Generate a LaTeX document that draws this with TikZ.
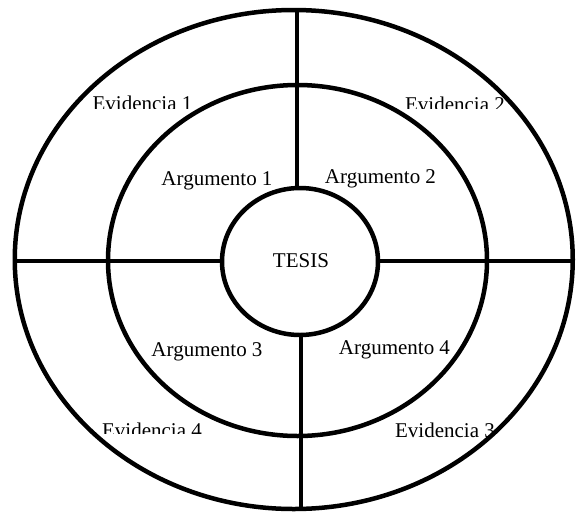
\documentclass[tikz,border=0pt]{standalone}
\usepackage{fontspec}
\setmainfont{Liberation Serif}
\usetikzlibrary{shapes.geometric}
\begin{document}
\begin{tikzpicture}[x=1pt,y=-1pt,
  ring/.style={draw=black, line width=4.5pt, ellipse, inner sep=0pt, outer sep=0pt},
  divider/.style={draw=black, line width=3.3pt},
  lbl/.style={anchor=base, inner sep=0pt, font=\fontsize{21}{24}\selectfont}]
\useasboundingbox (0,0) rectangle (576,515);
% rings
\node[ring, minimum width=558pt, minimum height=499pt] (outer) at (293.75,259.5) {};
\node[ring, minimum width=379pt, minimum height=351pt] (middle) at (297.5,260.5) {};
\node[ring, minimum width=156pt, minimum height=147pt] (inner) at (300,261.5) {};
% divider end points
\coordinate (topO) at (297,10);
\coordinate (topI) at (297,188.2);
\coordinate (botI) at (301,335);
\coordinate (botO) at (301,509);
\coordinate (leftO) at (14.8,261);
\coordinate (leftI) at (222.2,261);
\coordinate (rightI) at (377.8,261);
\coordinate (rightO) at (572.7,261);
\draw[divider] (topO) -- (topI);
\draw[divider] (botI) -- (botO);
\draw[divider] (leftO) -- (leftI);
\draw[divider] (rightI) -- (rightO);
% labels
\node[lbl] (tesis) at (301,267) {TESIS};
\node[lbl] (arg1) at (217,185.5) {Argumento 1};
\node[lbl] (arg2) at (380.5,183) {Argumento 2};
\node[lbl] (arg3) at (207,356) {Argumento 3};
\node[lbl] (arg4) at (394.5,354) {Argumento 4};
\node[lbl] (ev3) at (445,437) {Evidencia 3};
\begin{scope}
  \clip (0,0) rectangle (576,108.5);
  \node[lbl] (ev1) at (142.5,110.7) {Evidencia 1};
  \node[lbl] (ev2) at (455,111) {Evidencia 2};
\end{scope}
\begin{scope}
  \clip (0,400) rectangle (300,433.5);
  \node[lbl] (ev4) at (152,437) {Evidencia 4};
\end{scope}
\end{tikzpicture}
\end{document}
